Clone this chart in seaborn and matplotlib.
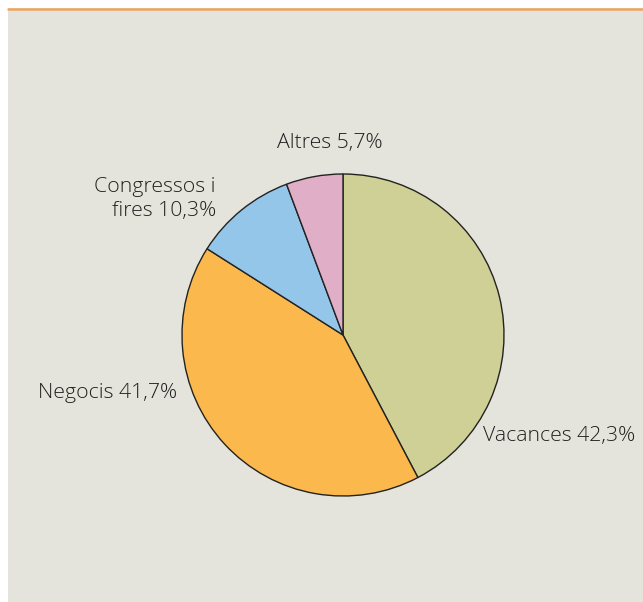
import matplotlib
matplotlib.use("Agg")
import matplotlib.pyplot as plt
import seaborn as sns

sns.set_style("white")
plt.rcParams['font.family'] = ['Open Sans', 'DejaVu Sans']

# data
categories = ["Vacances", "Negocis", "Congressos i\nfires", "Altres"]
shares = [42.3, 41.7, 10.3, 5.7]
share_labels = ["42,3%", "41,7%", "10,3%", "5,7%"]
colors = ["#cfd095", "#fbb84c", "#94c6ea", "#e1aec8"]

bg = "#e5e4dc"
fig = plt.figure(figsize=(6.43, 6.02), dpi=100)
fig.patch.set_facecolor("white")

# beige panel with orange top rule
panel = fig.add_axes([8 / 643, 0, 635 / 643, 594 / 602])
panel.set_facecolor(bg)
panel.set_xticks([])
panel.set_yticks([])
for s in panel.spines.values():
    s.set_visible(False)
fig.add_artist(plt.Line2D([8 / 643, 1], [593.5 / 602, 593.5 / 602], color="#f0a35e", lw=1.8))

# pie axes: center (343, 335), radius 161 px
r = 161
ax = fig.add_axes([(343 - r) / 643, (602 - 335 - r) / 602, 2 * r / 643, 2 * r / 602])
ax.set_facecolor("none")
ax.pie(shares, colors=colors, startangle=90, counterclock=False,
       wedgeprops=dict(edgecolor="#222222", linewidth=1.0), radius=1)
ax.set_xlim(-1, 1)
ax.set_ylim(-1, 1)
ax.axis("off")

label_pos = [(0.87, -0.63, "left"), (-1.03, -0.36, "right"),
             (-0.79, 0.845, "right"), (-0.08, 1.19, "center")]
for cat, lab, (x, y, ha) in zip(categories, share_labels, label_pos):
    ax.text(x, y, f"{cat} {lab}", ha=ha, va="center", fontsize=15.3,
            fontweight="light", color="#231f20", linespacing=1.3, clip_on=False)

fig.savefig("out.png", dpi=100, facecolor=fig.get_facecolor())
